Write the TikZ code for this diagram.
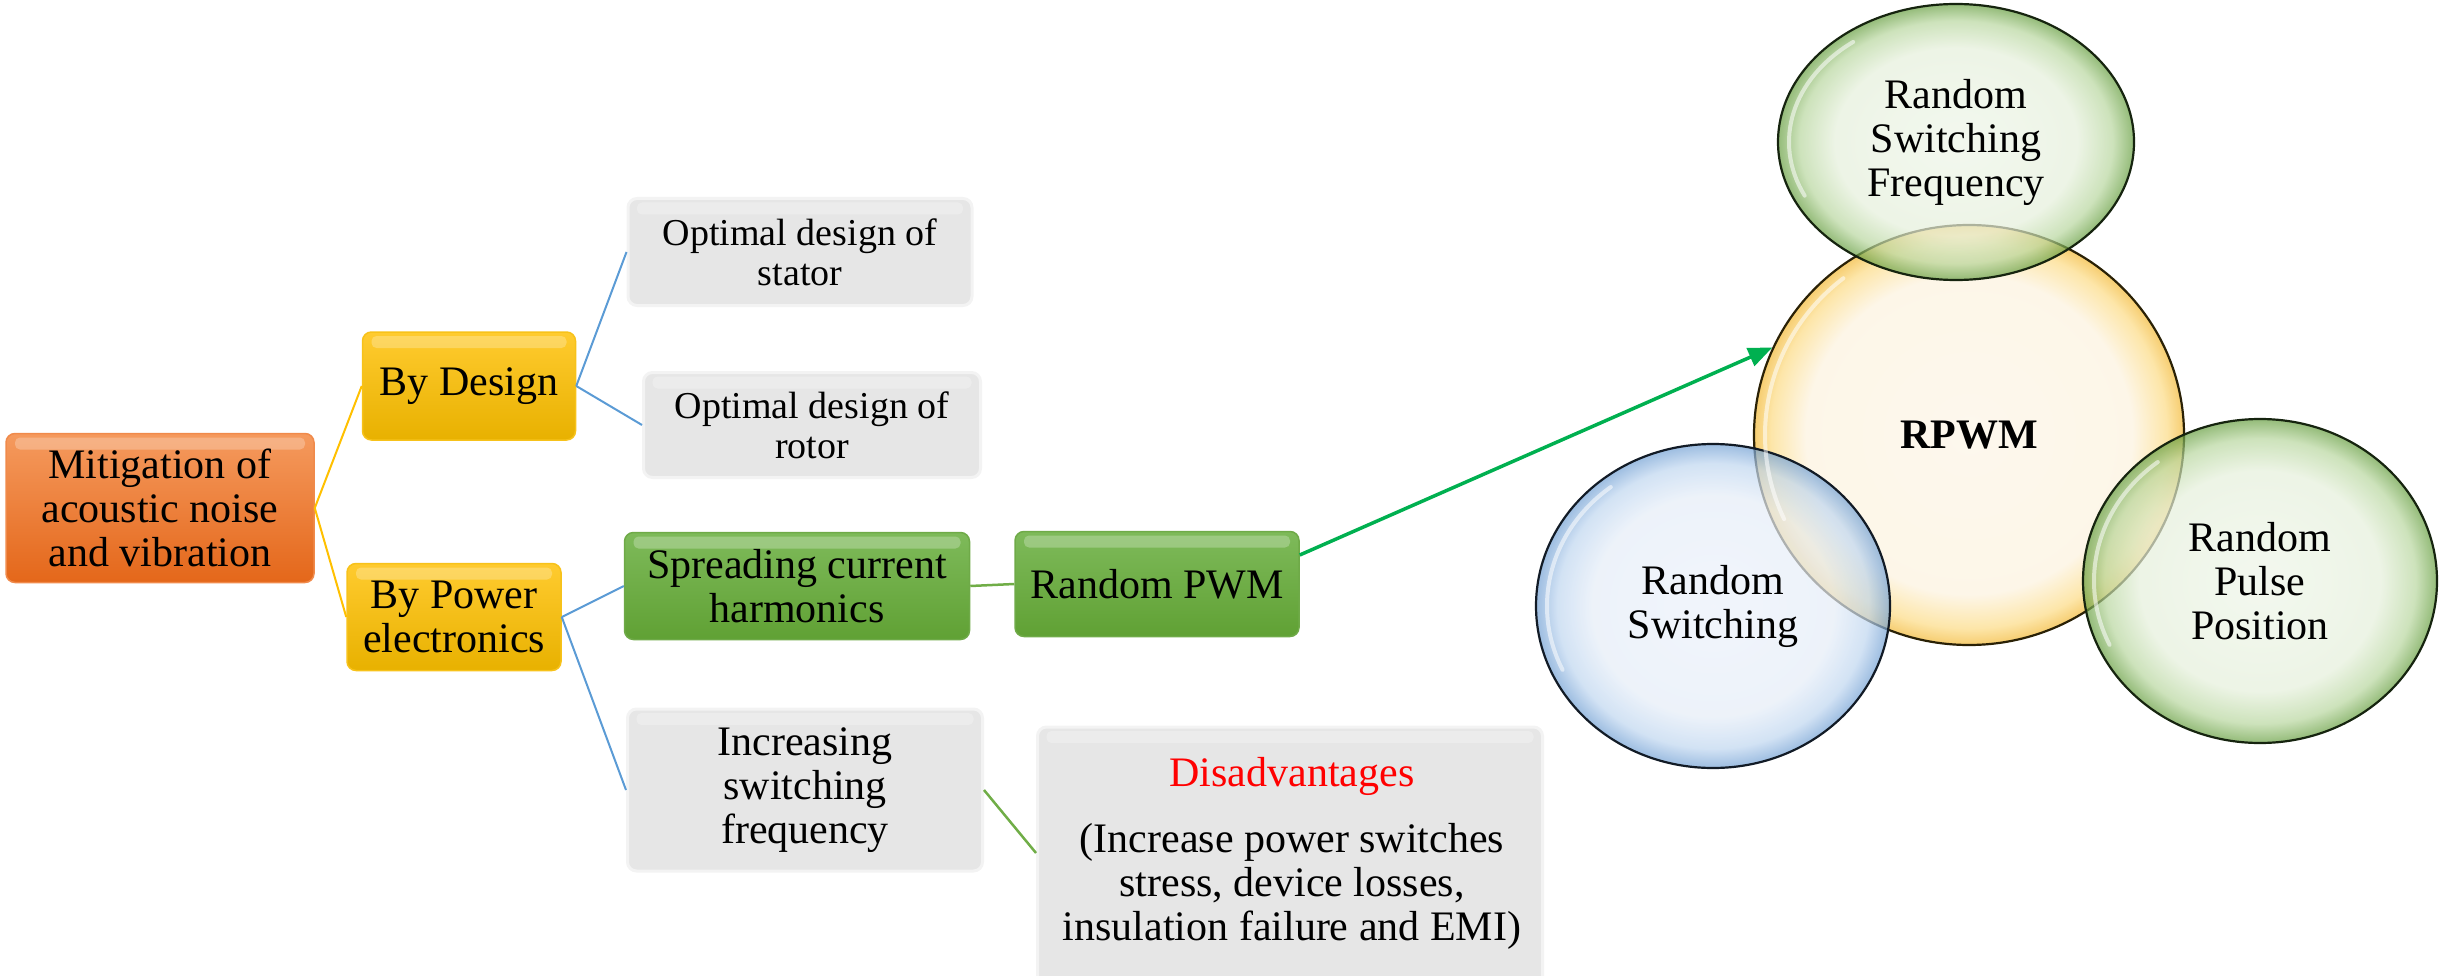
\documentclass[tikz,border=0pt]{standalone}
\usepackage{fontspec}
\setmainfont{Liberation Serif}
\usetikzlibrary{shapes.geometric,arrows.meta}

% box colours
\definecolor{orTop}{HTML}{F59A5E}
\definecolor{orBot}{HTML}{E4671A}
\definecolor{orEdge}{HTML}{F08A4B}
\definecolor{yeTop}{HTML}{FFCB2F}
\definecolor{yeBot}{HTML}{E8B100}
\definecolor{yeEdge}{HTML}{F7C21A}
\definecolor{grFill}{HTML}{E6E6E6}
\definecolor{grEdge}{HTML}{F3F3F3}
\definecolor{gnTop}{HTML}{7EBA5A}
\definecolor{gnBot}{HTML}{60A134}
\definecolor{gnEdge}{HTML}{6FAA48}
% connector colours
\definecolor{lnYellow}{HTML}{FFC000}
\definecolor{lnBlue}{HTML}{5B9BD5}
\definecolor{lnGreen}{HTML}{70AD47}
\definecolor{arGreen}{HTML}{00B050}
\definecolor{disRed}{HTML}{FF0000}
% bubble outlines
\definecolor{olGreen}{HTML}{16240F}
\definecolor{olYellow}{HTML}{2A2106}
\definecolor{olBlue}{HTML}{121B26}

% bubble shadings: light body, coloured rim
\pgfdeclareradialshading{bubbleGreen}{\pgfpoint{0bp}{0bp}}{rgb(0bp)=(0.93,0.96,0.91);rgb(17bp)=(0.90,0.94,0.86);rgb(22bp)=(0.72,0.84,0.62);rgb(25bp)=(0.40,0.62,0.25);rgb(50bp)=(0.40,0.62,0.25)}
\pgfdeclareradialshading{bubbleYellow}{\pgfpoint{0bp}{0bp}}{rgb(0bp)=(0.99,0.96,0.90);rgb(19bp)=(0.99,0.95,0.87);rgb(23bp)=(0.99,0.86,0.52);rgb(25bp)=(0.95,0.72,0.20);rgb(50bp)=(0.95,0.72,0.20)}
\pgfdeclareradialshading{bubbleBlue}{\pgfpoint{0bp}{0bp}}{rgb(0bp)=(0.92,0.94,0.98);rgb(17bp)=(0.90,0.93,0.97);rgb(22bp)=(0.75,0.84,0.94);rgb(25bp)=(0.45,0.63,0.83);rgb(50bp)=(0.45,0.63,0.83)}

\newcommand\txtL{\fontsize{42pt}{44pt}\selectfont}
\newcommand\txtS{\fontsize{38pt}{40pt}\selectfont}

% white gloss streak on the left inside a bubble: node, x radius, y radius
\newcommand\bubblegloss[3]{%
  \draw[white, line width=4pt, opacity=0.55, line cap=round]
    ([shift={(128:#2-11pt and #3-11pt)}]#1.center)
    arc[start angle=128, end angle=205, x radius=#2-11pt, y radius=#3-11pt];}

\tikzset{
  box/.style={rounded corners=9pt, inner sep=0pt, align=center, font=\txtL,
    path picture={\fill[white, fill opacity=0.25, rounded corners=5pt]
      ([xshift=9pt,yshift=-4pt]path picture bounding box.north west) rectangle
      ([xshift=-9pt,yshift=-16pt]path picture bounding box.north east);}},
  orangebox/.style={box, top color=orTop, bottom color=orBot, draw=orEdge, line width=1.5pt},
  yellowbox/.style={box, top color=yeTop, bottom color=yeBot, draw=yeEdge, line width=1.5pt},
  greenbox/.style={box, top color=gnTop, bottom color=gnBot, draw=gnEdge, line width=1.5pt},
  graybox/.style={box, fill=grFill, draw=grEdge, line width=3pt},
  bubble/.style={ellipse, inner sep=0pt, align=center, font=\txtL,
    fill opacity=0.7, text opacity=1, draw opacity=1, line width=2.2pt},
  yline/.style={draw=lnYellow, line width=2pt},
  bline/.style={draw=lnBlue, line width=2pt},
  gline/.style={draw=lnGreen, line width=2.5pt},
  garrow/.style={draw=arGreen, line width=3.5pt, -{Triangle[length=24pt,width=19pt]}},
}

\begin{document}
\begin{tikzpicture}[x=1pt,y=-1pt]
\useasboundingbox (0,0) rectangle (2448,976);

% tree of boxes
\node[orangebox, minimum width=308pt, minimum height=149pt] (mit) at (160,508) {Mitigation of\\acoustic noise\\and vibration};
\node[yellowbox, minimum width=213pt, minimum height=108pt] (des) at (469,386) {By Design};
\node[yellowbox, minimum width=214pt, minimum height=107pt] (pow) at (454,617) {By Power\\electronics};
\node[graybox, font=\txtS, minimum width=344pt, minimum height=107pt] (sta) at (800,252) {Optimal design of\\stator};
\node[graybox, font=\txtS, minimum width=337pt, minimum height=105pt] (rot) at (812,425) {Optimal design of\\rotor};
\node[greenbox, minimum width=345pt, minimum height=107pt] (spr) at (797,586) {Spreading current\\harmonics};
\node[greenbox, minimum width=284pt, minimum height=105pt] (pwm) at (1157,584) {Random PWM};
\node[graybox, minimum width=355pt, minimum height=162pt] (inc) at (805,790) {Increasing\\switching\\frequency};
\node[graybox, minimum width=505pt, minimum height=258pt] (dis) at (1290,856) {};
\node[align=center, font=\txtL, inner sep=0pt] (distext) at (1292,853)
  {\textcolor{disRed}{Disadvantages}\\[22pt](Increase power switches\\stress, device losses,\\insulation failure and EMI)};

% connectors
\draw[yline] (mit.east) -- (des.west);
\draw[yline] (mit.east) -- (pow.west);
\draw[bline] (des.east) -- (sta.west);
\draw[bline] (des.east) -- (rot.west);
\draw[bline] (pow.east) -- (spr.west);
\draw[bline] (pow.east) -- (inc.west);
\draw[gline] (spr.east) -- (pwm.west);
\draw[gline] (inc.east) -- ([yshift=3pt]dis.west);

% bubbles
\node[bubble, shading=bubbleYellow, draw=olYellow, minimum width=430pt, minimum height=420pt] (rp) at (1969,435) {\textbf{RPWM}};
\node[bubble, shading=bubbleGreen, draw=olGreen, minimum width=356pt, minimum height=276pt] (rsf) at (1956,142) {Random\\Switching\\Frequency};
\node[bubble, shading=bubbleBlue, draw=olBlue, minimum width=354pt, minimum height=324pt] (rs) at (1713,606) {Random\\Switching};
\node[bubble, shading=bubbleGreen, draw=olGreen, minimum width=354pt, minimum height=324pt] (rpp) at (2260,581) {Random\\Pulse\\Position};
\bubblegloss{rp}{215pt}{210pt}
\bubblegloss{rsf}{178pt}{138pt}
\bubblegloss{rs}{177pt}{162pt}
\bubblegloss{rpp}{177pt}{162pt}

% arrow into the RPWM bubble
\draw[garrow] ([yshift=29pt]pwm.east) -- (rp.156);
\end{tikzpicture}
\end{document}
